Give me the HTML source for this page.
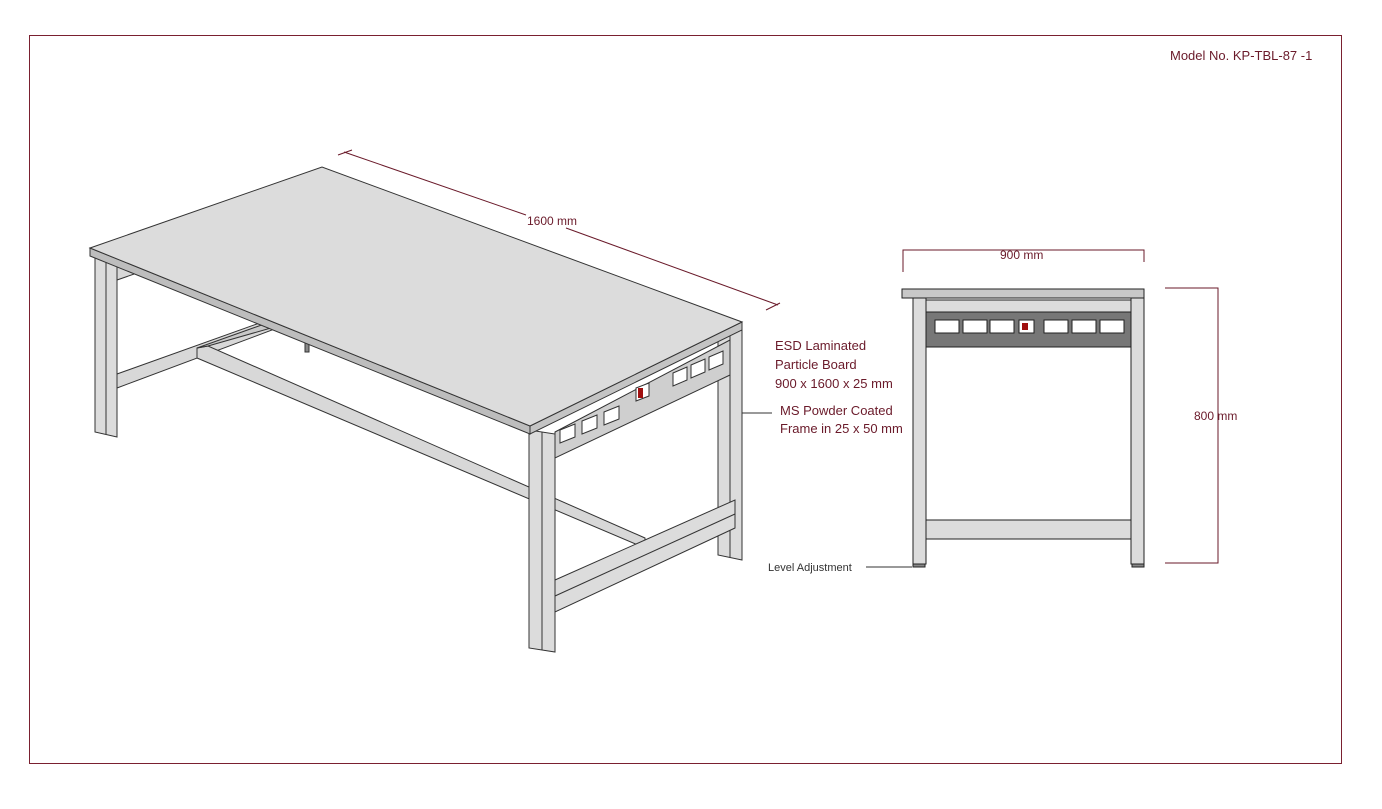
<!DOCTYPE html>
<html><head><style>
html,body{margin:0;padding:0;background:#fff;}
svg{display:block;}
text{font-family:"Liberation Sans",sans-serif;}
</style></head><body>
<svg width="1382" height="809" viewBox="0 0 1382 809" xmlns="http://www.w3.org/2000/svg">
<rect x="29.5" y="35.5" width="1312" height="728" fill="none" stroke="#7a2030" stroke-width="1"/>
<text x="1170" y="60" font-size="13" fill="#6a1a2a">Model No. KP-TBL-87 -1</text>

<!-- isometric table -->
<g stroke="#333" stroke-width="1">
<!-- back left leg area -->
<polygon points="117,262 140,258 140,272 117,280" fill="#d8d8d8"/>
<!-- left side lower rail -->
<polygon points="117,374 268,320 272,330 117,388" fill="#d8d8d8"/>
<!-- long rail -->
<polygon points="197,348 208,346 645,538 645,548 197,358" fill="#d8d8d8"/>
<polygon points="197,348 270,322 278,326 208,346" fill="#c8c8c8"/>
<!-- left front leg -->
<polygon points="95,256 117,262 117,437 95,432" fill="#dcdcdc"/>
<line x1="106" y1="259" x2="106" y2="434"/>
<!-- small bracket -->
<rect x="305" y="340" width="4" height="12" fill="#888"/>
<!-- back right leg -->
<polygon points="718,336 742,330 742,560 718,555" fill="#dcdcdc"/>
<line x1="730" y1="333" x2="730" y2="558"/>
<!-- right side lower rail -->
<polygon points="555,580 735,500 735,528 555,612" fill="#dcdcdc"/>
<line x1="555" y1="596" x2="735" y2="514"/>
<!-- apron -->
<polygon points="555,432 730,340 730,375 555,458" fill="#cfcfcf"/>
<!-- front right leg -->
<polygon points="529,430 555,434 555,652 529,648" fill="#dcdcdc"/>
<line x1="542" y1="432" x2="542" y2="650"/>
<!-- top edge -->
<polygon points="90,248 530,426 530,434 90,256" fill="#bdbdbd"/>
<polygon points="530,426 742,322 742,330 530,434" fill="#c4c4c4"/>
<!-- top surface -->
<polygon points="90,248 322,167 742,322 530,426" fill="#dcdcdc"/>
</g>
<!-- outlets on apron -->
<g fill="#fff" stroke="#333" stroke-width="1">
<polygon points="560,430 575,424 575,437 560,443"/>
<polygon points="582,421 597,415 597,428 582,434"/>
<polygon points="604,412 619,406 619,419 604,425"/>
<polygon points="636,388 649,383 649,396 636,401"/>
<polygon points="673,373 687,367 687,380 673,386"/>
<polygon points="691,365 705,359 705,372 691,378"/>
<polygon points="709,357 723,351 723,364 709,370"/>
</g>
<rect x="638" y="388" width="5" height="10" fill="#a01010"/>

<!-- 1600 dimension -->
<line x1="338" y1="155" x2="352" y2="150" stroke="#6a1a2a"/>
<line x1="344" y1="152" x2="526" y2="215" stroke="#6a1a2a"/>
<line x1="566" y1="228" x2="778" y2="305" stroke="#6a1a2a"/>
<line x1="766" y1="310" x2="780" y2="303" stroke="#6a1a2a"/>
<text x="527" y="225" font-size="12" fill="#6a1a2a">1600 mm</text>

<g font-size="13" fill="#6a1a2a" font-family="Liberation Sans, sans-serif">
<text x="775" y="350">ESD Laminated</text>
<text x="775" y="369">Particle Board</text>
<text x="775" y="388">900 x 1600 x 25 mm</text>
<text x="780" y="415">MS Powder Coated</text>
<text x="780" y="433">Frame in 25 x 50 mm</text>
</g>
<line x1="742" y1="413" x2="772" y2="413" stroke="#333"/>

<!-- front view -->
<g stroke="#222" stroke-width="1">
<rect x="913" y="298" width="13" height="266" fill="#dcdcdc"/>
<rect x="1131" y="298" width="13" height="266" fill="#dcdcdc"/>
<rect x="926" y="300" width="205" height="12" fill="#dcdcdc"/>
<rect x="926" y="312" width="205" height="35" fill="#777"/>
<rect x="926" y="520" width="205" height="19" fill="#dcdcdc"/>
<rect x="902" y="289" width="242" height="9" fill="#c8c8c8"/>
<rect x="913" y="564" width="12" height="3" fill="#888"/>
<rect x="1132" y="564" width="12" height="3" fill="#888"/>
</g>
<g fill="#fff" stroke="#222" stroke-width="1">
<rect x="935" y="320" width="24" height="13"/>
<rect x="963" y="320" width="24" height="13"/>
<rect x="990" y="320" width="24" height="13"/>
<rect x="1019" y="320" width="15" height="13"/>
<rect x="1044" y="320" width="24" height="13"/>
<rect x="1072" y="320" width="24" height="13"/>
<rect x="1100" y="320" width="24" height="13"/>
</g>
<rect x="1022" y="323" width="6" height="7" fill="#a01010"/>

<!-- dimensions front -->
<g stroke="#6a1a2a" stroke-width="1" fill="none">
<polyline points="903,272 903,250 1144,250 1144,262"/>
<polyline points="1165,288 1218,288 1218,563 1165,563"/>
<line x1="866" y1="567" x2="912" y2="567" stroke="#333"/>
</g>
<text x="1000" y="259" font-size="12" fill="#6a1a2a">900 mm</text>
<text x="1194" y="420" font-size="12" fill="#6a1a2a">800 mm</text>
<text x="768" y="571" font-size="11" fill="#333">Level Adjustment</text>
</svg>
</body></html>
